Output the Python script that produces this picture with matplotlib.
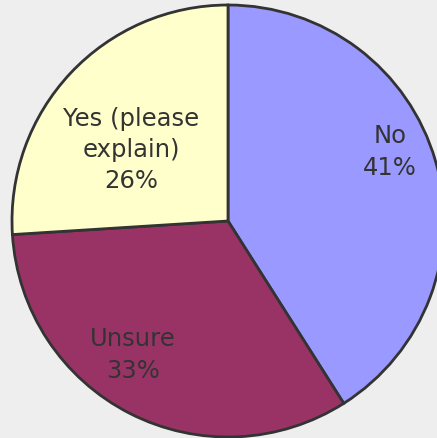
import matplotlib
matplotlib.use("Agg")
import matplotlib.pyplot as plt

categories = ["No", "Unsure", "Yes (please\nexplain)"]
values = [41, 33, 26]
colors = ["#9999ff", "#993366", "#ffffcc"]

W, H, dpi = 437, 438, 100
fig = plt.figure(figsize=(W / dpi, H / dpi), dpi=dpi, facecolor="#eeeeee")
ax = fig.add_axes([0, 0, 1, 1])
ax.set_facecolor("#eeeeee")

R = 216.0
cx, cy = 228.0, 221.0
wedges, texts = ax.pie(values, colors=colors, startangle=90, counterclock=False,
                       radius=1.0,
                       labels=[f"{c}\n{v}%" for c, v in zip(categories, values)],
                       labeldistance=0.7,
                       wedgeprops=dict(edgecolor="#333333", linewidth=2),
                       textprops=dict(color="#333333", fontsize=17.5, ha="center", va="center",
                                      linespacing=1.38, family="DejaVu Sans"))
# label placement (pixel centres in the reference)
label_px = [(390, 152), (133, 355), (131, 150)]
for t, (px, py) in zip(texts, label_px):
    t.set_position(((px - cx) / R, (cy - py) / R))
    t.set_ha("center")
    t.set_va("center")
    t.set_multialignment("center")

ax.set_xlim(-cx / R, (W - cx) / R)
ax.set_ylim(-(H - cy) / R, cy / R)
ax.set_aspect("equal")
ax.axis("off")
fig.savefig("out.png", dpi=dpi, facecolor="#eeeeee")
